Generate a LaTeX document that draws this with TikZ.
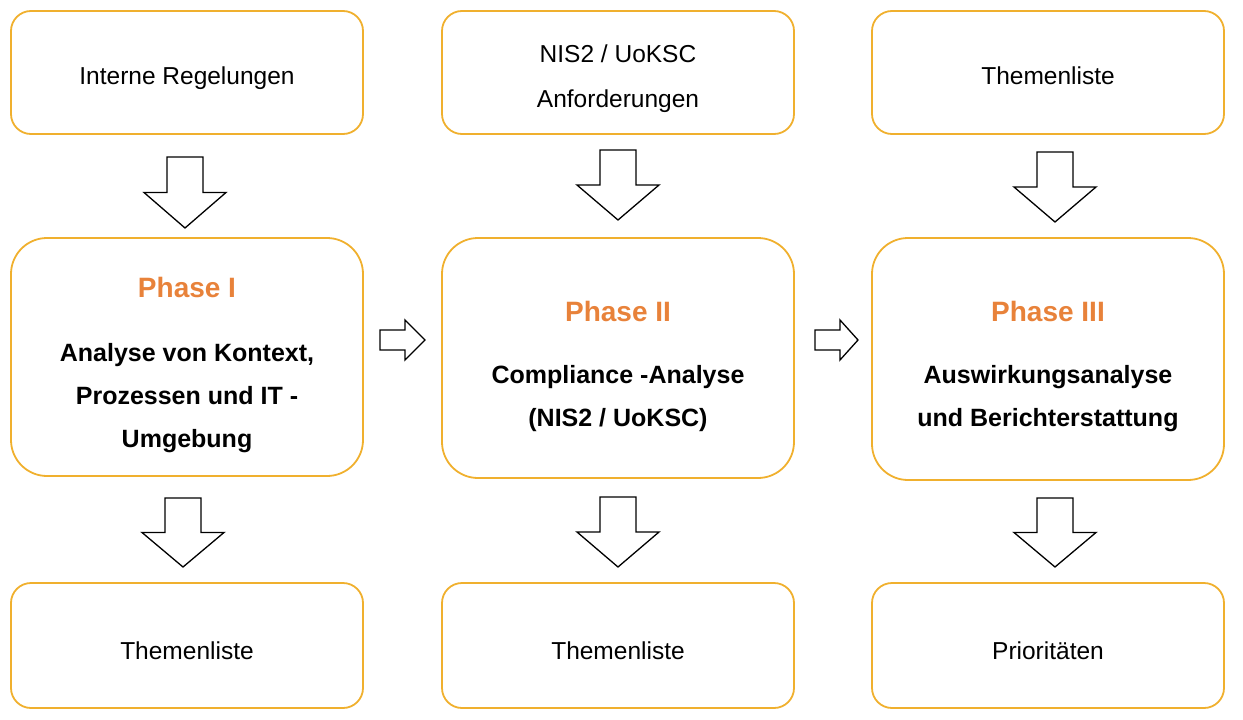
\documentclass[tikz,border=0pt]{standalone}
\usepackage{fontspec}
\setmainfont{Liberation Sans}
\definecolor{bord}{HTML}{F0B02E}
\definecolor{ph}{HTML}{E8823A}
\newcommand\sh[1]{\rule{0pt}{#1pt}}
\newcommand\darr[3]{\draw[arrw] (#1-18,#2) -- (#1+18,#2) -- (#1+18,#2+0.5*#3-0.5*#2) -- (#1+41,#2+0.5*#3-0.5*#2) -- (#1,#3) -- (#1-41,#2+0.5*#3-0.5*#2) -- (#1-18,#2+0.5*#3-0.5*#2) -- cycle;}
\newcommand\rarr[3]{\draw[arrw] (#1,#3-10) -- (#1+25,#3-10) -- (#1+25,#3-20) -- (#2,#3) -- (#1+25,#3+20) -- (#1+25,#3+10) -- (#1,#3+10) -- cycle;}
\begin{document}
\begin{tikzpicture}[x=1pt,y=-1pt,
  box/.style={draw=bord,line width=1.8pt,rounded corners=20pt,align=center,font=\fontsize{24.5}{45}\selectfont},
  bigbox/.style={draw=bord,line width=1.8pt,rounded corners=36pt,align=center,font=\fontsize{25}{43}\selectfont\bfseries},
  arrw/.style={draw=black,line width=1.3pt,fill=white}]
\useasboundingbox (0,0) rectangle (1243,720);
\node[box,minimum width=352pt,minimum height=123pt] (t1) at (187,72.5) {\sh{29}Interne Regelungen};
\node[box,minimum width=352pt,minimum height=123pt] (t2) at (618,72.5) {\sh{31}NIS2 / UoKSC\\Anforderungen};
\node[box,minimum width=352pt,minimum height=123pt] (t3) at (1048,72.5) {\sh{24}Themenliste};
\node[bigbox,minimum width=352pt,minimum height=238pt] (m1) at (187,357) {\sh{37}\textcolor{ph}{\fontsize{28}{30}\selectfont Phase I}\\[21pt]Analyse von Kontext,\\Prozessen und IT -\\Umgebung};
\node[bigbox,minimum width=352pt,minimum height=240pt] (m2) at (618,358) {\sh{37}\textcolor{ph}{\fontsize{28}{30}\selectfont Phase II}\\[19pt]Compliance -Analyse\\(NIS2 / UoKSC)};
\node[bigbox,minimum width=352pt,minimum height=242pt] (m3) at (1048,359) {\sh{36}\textcolor{ph}{\fontsize{28}{30}\selectfont Phase III}\\[19pt]Auswirkungsanalyse\\und Berichterstattung};
\node[box,minimum width=352pt,minimum height=125pt] (b1) at (187,645.5) {\sh{28}Themenliste};
\node[box,minimum width=352pt,minimum height=125pt] (b2) at (618,645.5) {\sh{28}Themenliste};
\node[box,minimum width=352pt,minimum height=125pt] (b3) at (1048,645.5) {\sh{28}Prioritäten};
\darr{185}{157}{228}
\darr{618}{150}{220}
\darr{1055}{152}{222}
\darr{183}{498}{567}
\darr{618}{497}{567}
\darr{1055}{498}{567}
\rarr{380}{425}{340}
\rarr{815}{858}{340}
\end{tikzpicture}
\end{document}
